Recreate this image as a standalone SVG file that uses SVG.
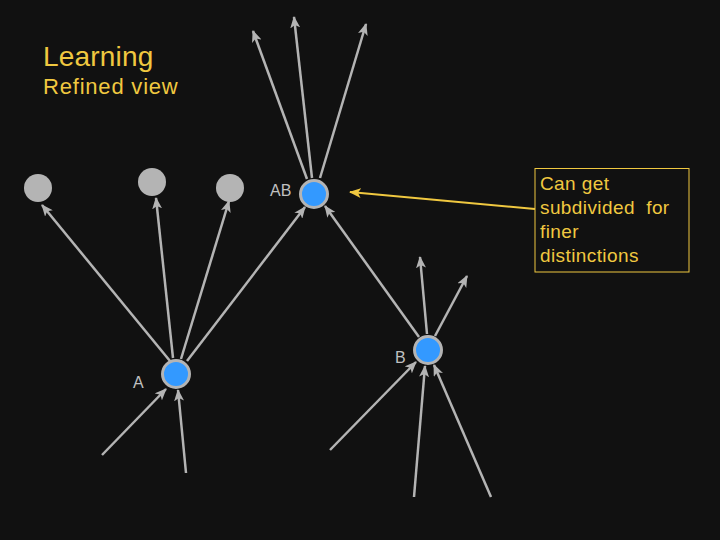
<svg xmlns="http://www.w3.org/2000/svg" width="720" height="540" viewBox="0 0 720 540">
<defs>
<marker id="ah" markerUnits="userSpaceOnUse" markerWidth="12" markerHeight="10" viewBox="0 0 12 10" refX="11" refY="5" orient="auto">
<path d="M0,0 L12,5 L0,10 L3,5 Z" fill="#b4b4b4"/>
</marker>
<marker id="ay" markerUnits="userSpaceOnUse" markerWidth="12" markerHeight="10" viewBox="0 0 12 10" refX="11" refY="5" orient="auto">
<path d="M0,0 L12,5 L0,10 L3,5 Z" fill="#f0c840"/>
</marker>
<style>
.e{stroke:#b4b4b4;stroke-width:2.5;fill:none;marker-end:url(#ah)}
.n{fill:#3399ff;stroke:#b4b4b4;stroke-width:3}
.g{fill:#b4b4b4}
.lbl{font-family:"Liberation Sans",Arial,sans-serif;font-size:16px;fill:#c0c0c0}
.y{font-family:"Liberation Sans",Arial,sans-serif;fill:#f0c840}
</style>
</defs>
<rect width="720" height="540" fill="#111111"/>
<text class="y" x="43" y="66" font-size="28" letter-spacing="0.2">Learning</text>
<text class="y" x="43" y="94" font-size="22" letter-spacing="0.8">Refined view</text>
<g id="connectors">
<line class="e" x1="170" y1="361" x2="42" y2="205"/>
<line class="e" x1="173" y1="358" x2="156" y2="198"/>
<line class="e" x1="181" y1="359" x2="229" y2="201"/>
<line class="e" x1="187" y1="361" x2="305" y2="207"/>
<line class="e" x1="419" y1="337" x2="325" y2="206"/>
<line class="e" x1="307" y1="179" x2="253" y2="31"/>
<line class="e" x1="312" y1="178" x2="294" y2="17"/>
<line class="e" x1="320" y1="178" x2="366" y2="24"/>
<line class="e" x1="427" y1="334" x2="420" y2="257"/>
<line class="e" x1="435" y1="336" x2="467" y2="276"/>
<line class="e" x1="102" y1="455" x2="166" y2="389"/>
<line class="e" x1="186" y1="473" x2="178" y2="390"/>
<line class="e" x1="330" y1="450" x2="416" y2="362"/>
<line class="e" x1="414" y1="497" x2="425" y2="366"/>
<line class="e" x1="491" y1="497" x2="434" y2="365"/>
<line x1="535" y1="209" x2="350" y2="192" stroke="#f0c840" stroke-width="2" marker-end="url(#ay)"/>
</g>
<g id="g1"><circle class="g" cx="38" cy="188" r="14"/></g>
<g id="g2"><circle class="g" cx="152" cy="182" r="14"/></g>
<g id="g3"><circle class="g" cx="230" cy="188" r="14"/></g>
<g id="AB"><circle class="n" cx="314" cy="194" r="13.5"/><text class="lbl" x="270" y="196">AB</text></g>
<g id="A"><circle class="n" cx="176" cy="374" r="13.5"/><text class="lbl" x="133" y="388">A</text></g>
<g id="B"><circle class="n" cx="428" cy="350" r="13.5"/><text class="lbl" x="395" y="363">B</text></g>
<g id="note">
<rect x="535" y="168.5" width="154" height="103.5" fill="none" stroke="#f0c840" stroke-width="1"/>
<text class="y" font-size="19" letter-spacing="0.4" style="white-space:pre" xml:space="preserve"><tspan x="540" y="190">Can get</tspan><tspan x="540" y="214">subdivided  for</tspan><tspan x="540" y="238">finer</tspan><tspan x="540" y="262">distinctions</tspan></text>
</g>
</svg>
